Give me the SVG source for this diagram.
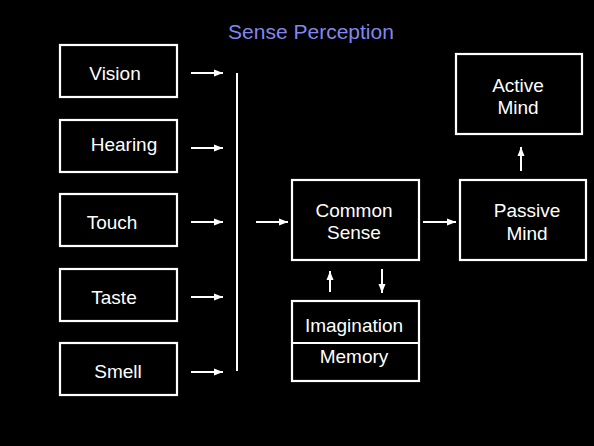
<svg xmlns="http://www.w3.org/2000/svg" width="594" height="446" viewBox="0 0 594 446">
<style>
.box{fill:#000;stroke:#fff;stroke-width:2.2}
.t{font-family:"Liberation Sans",Arial,sans-serif;font-size:19px;fill:#fff;text-anchor:middle}
.c{stroke:#fff;stroke-width:2;fill:none}
.a{stroke:#fff;stroke-width:2;fill:none;marker-end:url(#ah)}
</style>
<defs>
<marker id="ah" markerUnits="userSpaceOnUse" markerWidth="10" markerHeight="8" refX="9" refY="4" orient="auto">
<path d="M0,0.5 L9,4 L0,7.5 Z" fill="#fff"/>
</marker>
</defs>
<rect width="594" height="446" fill="#000"/>
<text x="311" y="39" font-family="Liberation Sans, Arial, sans-serif" font-size="21" fill="#8585ee" text-anchor="middle">Sense Perception</text>
<g id="vision"><rect class="box" x="60" y="45" width="117" height="52"/><text class="t" x="115" y="80">Vision</text></g>
<g id="hearing"><rect class="box" x="60" y="120" width="117" height="52"/><text class="t" x="124" y="151">Hearing</text></g>
<g id="touch"><rect class="box" x="60" y="194" width="117" height="52"/><text class="t" x="112" y="229">Touch</text></g>
<g id="taste"><rect class="box" x="60" y="269" width="117" height="52"/><text class="t" x="114" y="304">Taste</text></g>
<g id="smell"><rect class="box" x="60" y="343" width="117" height="52"/><text class="t" x="118" y="378">Smell</text></g>
<g id="common"><rect class="box" x="292" y="180" width="127" height="80"/><text class="t" x="354" y="217">Common</text><text class="t" x="354" y="239">Sense</text></g>
<g id="imagination-memory"><rect class="box" x="292" y="301" width="127" height="80"/><line class="c" x1="292" y1="343" x2="419" y2="343"/><text class="t" x="354" y="332">Imagination</text><text class="t" x="354" y="363">Memory</text></g>
<g id="passive"><rect class="box" x="460" y="180" width="126" height="80"/><text class="t" x="527" y="217">Passive</text><text class="t" x="527" y="240">Mind</text></g>
<g id="active"><rect class="box" x="456" y="54" width="126" height="80"/><text class="t" x="518" y="92">Active</text><text class="t" x="518" y="114">Mind</text></g>
<g id="connectors">
<line class="a" x1="191" y1="73" x2="223" y2="73"/>
<line class="a" x1="191" y1="148" x2="223" y2="148"/>
<line class="a" x1="191" y1="222" x2="223" y2="222"/>
<line class="a" x1="191" y1="297" x2="223" y2="297"/>
<line class="a" x1="191" y1="372" x2="223" y2="372"/>
<line class="c" x1="237" y1="73" x2="237" y2="371"/>
<line class="a" x1="256" y1="222" x2="288" y2="222"/>
<line class="a" x1="423" y1="222" x2="456" y2="222"/>
<line class="a" x1="330" y1="292" x2="330" y2="271"/>
<line class="a" x1="382" y1="269" x2="382" y2="293"/>
<line class="a" x1="521" y1="171" x2="521" y2="147"/>
</g>
</svg>
